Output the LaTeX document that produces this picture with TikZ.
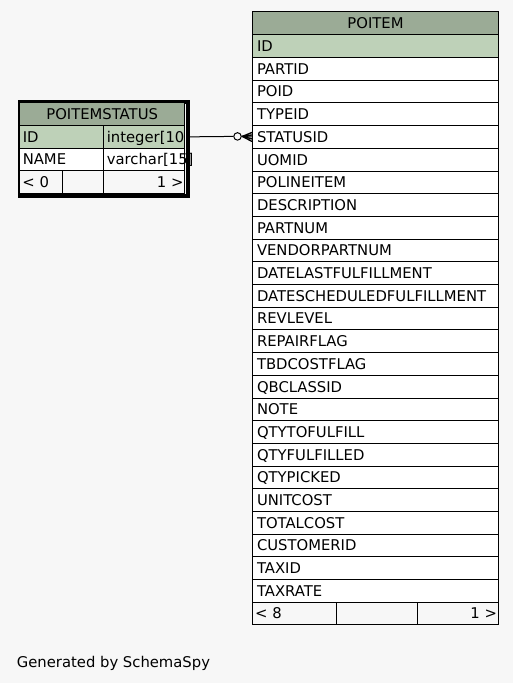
\documentclass[tikz,border=0pt]{standalone}
\usepackage{fontspec}
\newfontfamily\dvs{DejaVu Sans}
\definecolor{bgc}{HTML}{F7F7F7}
\definecolor{headc}{HTML}{9BAB96}
\definecolor{pkc}{HTML}{BED1B8}
\hyphenpenalty=10000
\exhyphenpenalty=10000
\begin{document}
\begin{tikzpicture}[x=1pt,y=-1pt,
  txt/.style={font=\dvs\fontsize{14.8}{17}\selectfont, text height=10.7pt, text depth=0pt},
  cellbox/.style={txt, draw=black, line width=1pt, inner ysep=0pt, anchor=north west, fill=white},
  pirow/.style={cellbox, minimum width=246, text width=237, inner xsep=4.5, align=left, minimum height=22.7},
  headbox/.style={cellbox, fill=headc, align=center, inner xsep=0pt},
  foot/.style={cellbox, fill=bgc, minimum height=22.3}
]
\fill[bgc] (0,0) rectangle (513,683);
\useasboundingbox (0,0) rectangle (513,683);

% ---- POITEM table ----
\node[headbox, minimum width=246, minimum height=23.3] (pihead) at (252,11) {POITEM};
\node[pirow, fill=pkc] (pi0) at (252,34.3) {ID};
\foreach \n [count=\i from 1] in {PARTID,POID,TYPEID,STATUSID,UOMID,POLINEITEM,DESCRIPTION,PARTNUM,VENDORPARTNUM,DATELASTFULFILLMENT,DATESCHEDULEDFULFILLMENT,REVLEVEL,REPAIRFLAG,TBDCOSTFLAG,QBCLASSID,NOTE,QTYTOFULFILL,QTYFULFILLED,QTYPICKED,UNITCOST,TOTALCOST,CUSTOMERID,TAXID,TAXRATE}
  \node[pirow] (pi\i) at (252,34.3+\i*22.7) {\n};
\node[foot, minimum width=83.7, text width=78.7, inner xsep=2.5, align=left] (pif1) at (252,601.8) {< 8};
\node[foot, minimum width=81, inner xsep=0pt] (pif2) at (335.7,601.8) {};
\node[foot, minimum width=81.3, text width=78.3, inner xsep=1.5, align=right] (pif3) at (416.7,601.8) {1 >};

% ---- POITEMSTATUS table ----
\node[draw=black, line width=3.5pt, minimum width=168.5, minimum height=94.4, inner sep=0pt, anchor=north west] (psframe) at (17.5,100) {};
\node[headbox, minimum width=164.7, minimum height=23.3] (pshead) at (19.3,101.7) {POITEMSTATUS};
\node[cellbox, fill=pkc, minimum width=84, minimum height=22.7, text width=78, inner xsep=3, align=left] (psidn) at (19.3,125) {ID};
\node[cellbox, fill=pkc, minimum width=80.7, minimum height=22.7, text width=74.7, inner xsep=3, align=left] (psidt) at (103.3,125) {integer[10};
\node[cellbox, minimum width=84, minimum height=22.7, text width=78, inner xsep=3, align=left] (psnamen) at (19.3,147.7) {NAME};
\node[cellbox, minimum width=80.7, minimum height=22.7, text width=74.7, inner xsep=3, align=left] (psnamet) at (103.3,147.7) {varchar[15]};
\node[foot, minimum width=42.4, text width=37.4, inner xsep=2.5, align=left] (psf1) at (19.3,170.4) {< 0};
\node[foot, minimum width=41.6, inner xsep=0pt] (psf2) at (61.7,170.4) {};
\node[foot, minimum width=80.7, text width=78.7, inner xsep=1, align=right] (psf3) at (103.3,170.4) {1 >};

% ---- connector ----
\node[circle, draw=black, line width=1pt, minimum size=7.5, inner sep=0pt] (circ) at (237.5,136.4) {};
\coordinate (cf) at (242.5,136.4);
\draw[line width=1pt] (psframe.east |- psidt.east) -- (circ.west);
\draw[line width=1pt] (circ.east) -- (pi4.west);
\draw[line width=1.4pt] (cf) -- ([yshift=4.5pt]pi4.west);
\draw[line width=1.4pt] (cf) -- ([yshift=-4.5pt]pi4.west);
\draw[line width=1.4pt] (cf) -- ([yshift=2pt]pi4.west);
\draw[line width=1.4pt] (cf) -- ([yshift=-2pt]pi4.west);

% ---- footer text ----
\node[txt, anchor=base west, inner sep=0pt] (gen) at (16.7,667) {Generated by SchemaSpy};
\end{tikzpicture}
\end{document}
